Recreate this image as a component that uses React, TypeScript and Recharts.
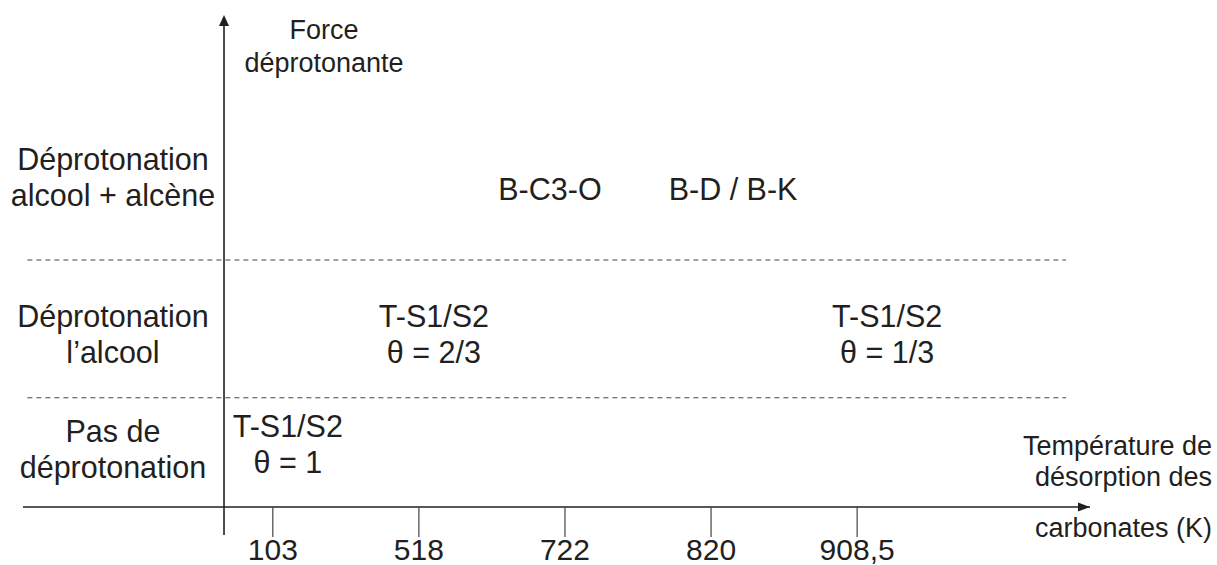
import React from 'react';
import { ScatterChart, Scatter, XAxis, YAxis, ReferenceLine, ReferenceDot, Customized } from 'recharts';

// temperature slots on the horizontal axis (not to scale in the original)
const temperatureLabels = ['103', '518', '722', '820', '908,5'];
const temperatureSlots = [0, 1, 2, 3, 4];

// deprotonating strength levels (vertical axis, qualitative)
const levelNames = [
  ['Pas de', 'déprotonation'],
  ['Déprotonation', 'l’alcool'],
  ['Déprotonation', 'alcool + alcène'],
];
const levelForce = [11.6, 35, 67];
const levelBoundaries = [22.2, 50.2];

// sites
const siteNames = ['T-S1/S2', 'T-S1/S2', 'B-C3-O', 'B-D / B-K', 'T-S1/S2'];
const siteCoverage = ['θ = 1', 'θ = 2/3', '', '', 'θ = 1/3'];
const siteSlot = [0, 1, 2, 3, 4];
const siteForce = [12.8, 35, 64.6, 64.6, 35];

const FONT = '"Liberation Sans", Arial, Helvetica, sans-serif';
const INK = '#231f20';
const X_DOMAIN = [-1.71, 5.594];
const Y_AXIS_AT = -0.334;
const ROW_LABEL_AT = -1.094;
const SITE_DX = [15, 15, -15, 22, 30];

const siteData = siteNames.map((name, i) => ({
  x: siteSlot[i],
  y: siteForce[i],
  lines: siteCoverage[i] ? [name, siteCoverage[i]] : [name],
  dx: SITE_DX[i],
}));

const levelData = levelNames.map((lines, i) => ({ x: ROW_LABEL_AT, y: levelForce[i], lines, dx: 0 }));

function TextBlock(props: any) {
  const { cx, cy, payload } = props;
  const lines: string[] = payload.lines;
  const lh = 36;
  return (
    <g>
      {lines.map((t, i) => (
        <text
          key={i}
          x={cx + payload.dx}
          y={cy + (i - (lines.length - 1) / 2) * lh + 10.5}
          textAnchor="middle"
          fontFamily={FONT}
          fontSize={30.5}
          fill={INK}
        >
          {t}
        </text>
      ))}
    </g>
  );
}

function VerticalArrow(props: any) {
  const { x1, y1, x2, y2 } = props;
  const top = Math.min(y1, y2);
  const bottom = Math.max(y1, y2);
  return (
    <g>
      <line x1={x1} x2={x1} y1={bottom} y2={top + 8} stroke={INK} strokeWidth={1.6} />
      <polygon points={`${x1},${top} ${x1 - 5},${top + 11} ${x1 + 5},${top + 11}`} fill={INK} />
    </g>
  );
}

function ArrowHead(props: any) {
  const { cx, cy } = props;
  return <polygon points={`${cx},${cy} ${cx - 12},${cy - 4.5} ${cx - 12},${cy + 4.5}`} fill={INK} />;
}

function Titles() {
  const style = { fontFamily: FONT, fontSize: 27, fill: INK };
  return (
    <g>
      <text x={324} y={39} textAnchor="middle" {...style}>Force</text>
      <text x={324} y={72} textAnchor="middle" {...style}>déprotonante</text>
      <text x={1212} y={455} textAnchor="end" {...style}>Température de</text>
      <text x={1212} y={486} textAnchor="end" {...style}>désorption des</text>
      <text x={1212} y={537} textAnchor="end" {...style}>carbonates (K)</text>
    </g>
  );
}

export default function App() {
  return (
    <div style={{ position: 'absolute', left: 0, top: 0, background: '#fff' }}>
      <ScatterChart width={1217} height={565} margin={{ top: 15, right: 127, bottom: 0, left: 23 }}>
        <XAxis
          type="number"
          dataKey="x"
          domain={X_DOMAIN}
          ticks={temperatureSlots}
          interval={0}
          tickFormatter={(v: number) => temperatureLabels[v] ?? ''}
          tickSize={30}
          tickMargin={2}
          height={58}
          axisLine={{ stroke: INK, strokeWidth: 1.6 }}
          tickLine={{ stroke: '#444', strokeWidth: 1.2 }}
          tick={{ fill: INK, fontSize: 30, fontFamily: FONT }}
        />
        <YAxis type="number" dataKey="y" domain={[0, 100]} hide />
        {levelBoundaries.map((b) => (
          <ReferenceLine
            key={b}
            segment={[{ x: -1.68, y: b }, { x: 5.43, y: b }]}
            stroke="#444"
            strokeWidth={1}
            strokeDasharray="5 4"
            ifOverflow="visible"
          />
        ))}
        <ReferenceLine
          segment={[{ x: Y_AXIS_AT, y: -5.7 }, { x: Y_AXIS_AT, y: 100 }]}
          ifOverflow="visible"
          shape={<VerticalArrow />}
        />
        <ReferenceDot x={X_DOMAIN[1]} y={0} ifOverflow="visible" shape={<ArrowHead />} />
        <Scatter data={levelData} shape={<TextBlock />} isAnimationActive={false} />
        <Scatter data={siteData} shape={<TextBlock />} isAnimationActive={false} />
        <Customized component={Titles} />
      </ScatterChart>
    </div>
  );
}
